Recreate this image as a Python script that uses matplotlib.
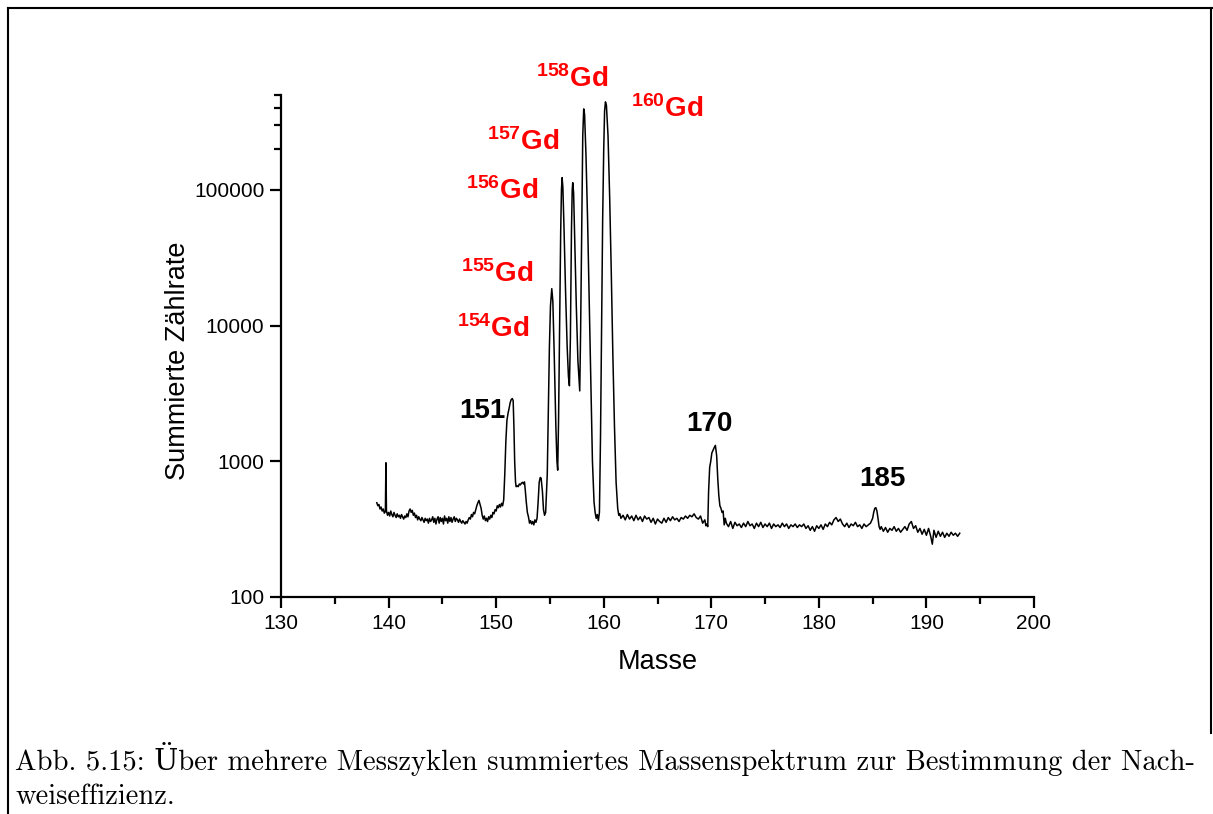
import numpy as np
import matplotlib
matplotlib.use("Agg")
import matplotlib.pyplot as plt
from matplotlib.ticker import FixedLocator, MultipleLocator, NullFormatter
from matplotlib.lines import Line2D

# summed mass spectrum (mass, counts)
m_low = [138.9, 139.0, 139.1, 139.2, 139.3, 139.4, 139.5, 139.6, 139.7, 139.75, 139.8, 139.9,
         140.0, 140.1, 140.2, 140.3, 140.4, 140.5, 140.6, 140.7, 140.8, 140.9,
         141.0, 141.1, 141.2, 141.3, 141.4, 141.5, 141.6, 141.7, 141.8, 141.9,
         142.0, 142.1, 142.2, 142.3, 142.4, 142.5, 142.6, 142.7, 142.8, 142.9,
         143.0, 143.1, 143.2, 143.3, 143.4, 143.5, 143.6, 143.7, 143.8, 143.9,
         144.0, 144.1, 144.2, 144.3, 144.4, 144.5, 144.6, 144.7, 144.8, 144.9,
         145.0, 145.1, 145.2, 145.3, 145.4, 145.5, 145.6, 145.7, 145.8, 145.9,
         146.0, 146.1, 146.2, 146.3, 146.4, 146.5, 146.6, 146.7, 146.8, 146.9,
         147.0, 147.1, 147.2, 147.3, 147.4, 147.5, 147.6, 147.7, 147.8, 147.9,
         148.0, 148.1, 148.2, 148.3, 148.4, 148.5, 148.6, 148.7, 148.8, 148.9,
         149.0, 149.1, 149.2, 149.3, 149.4, 149.5, 149.6, 149.7, 149.8, 149.9,
         150.0, 150.1, 150.2, 150.3, 150.4, 150.5]
c_low = [495, 470, 480, 445, 460, 430, 445, 415, 425, 975, 430, 400,
         420, 395, 430, 405, 390, 420, 400, 385, 410, 390,
         400, 380, 405, 390, 375, 395, 385, 410, 390, 430,
         445, 420, 435, 400, 415, 385, 400, 370, 390, 375,
         365, 385, 370, 355, 380, 365, 375, 350, 380, 360,
         370, 390, 355, 380, 345, 375, 390, 350, 385, 360,
         380, 345, 395, 365, 380, 350, 390, 360, 385, 355,
         375, 390, 360, 380, 370, 355, 375, 360, 350, 365,
         355, 345, 360, 350, 370, 385, 375, 405, 390, 420,
         410, 440, 470, 495, 515, 480, 450, 400, 375, 395,
         365, 380, 360, 390, 375, 400, 385, 420, 410, 440,
         430, 470, 455, 480, 460, 490]

m_gd = [150.6, 150.7, 150.8, 150.9, 151.0, 151.1, 151.2, 151.3, 151.4, 151.5, 151.58,
        151.65, 151.72, 151.8, 151.86, 151.95, 152.05, 152.15, 152.25, 152.35, 152.45,
        152.55, 152.63, 152.7, 152.8, 152.9, 153.0, 153.1, 153.2, 153.3, 153.4, 153.5,
        153.6, 153.7, 153.8, 153.9, 154.0, 154.1, 154.18, 154.3, 154.4, 154.5, 154.6,
        154.75, 154.85, 154.95, 155.05, 155.17, 155.27, 155.4, 155.55, 155.65, 155.72,
        155.8, 155.9, 156.0, 156.07, 156.13, 156.2, 156.3, 156.45, 156.6, 156.72, 156.81,
        156.9, 157.0, 157.07, 157.12, 157.2, 157.3, 157.45, 157.6, 157.77,
        157.85, 157.95, 158.05, 158.14, 158.22, 158.35, 158.5, 158.65, 158.8, 158.95,
        159.1, 159.2, 159.3, 159.4, 159.5, 159.6, 159.7, 159.8, 159.9, 160.0, 160.08,
        160.16, 160.25, 160.4, 160.55, 160.7, 160.85, 161.0, 161.15, 161.3, 161.4]
c_gd = [470, 520, 800, 1400, 2000, 2250, 2450, 2700, 2850, 2900, 2800,
        1800, 1000, 700, 650, 660, 650, 680, 670, 690, 700,
        680, 705, 620, 500, 420, 390, 350, 365, 345, 360, 340,
        370, 355, 380, 500, 700, 760, 750, 600, 440, 400, 420,
        800, 2500, 7000, 14000, 18700, 15000, 6000, 1800, 1000, 860,
        2000, 10000, 50000, 100000, 123000, 105000, 55000, 18000, 7000, 4200, 3600,
        8000, 50000, 100000, 113000, 95000, 45000, 14000, 5500, 3300,
        9000, 50000, 250000, 395000, 360000, 180000, 60000, 15000, 3500, 1000,
        500, 420, 380, 405, 365, 420, 1500, 10000, 60000, 200000, 380000,
        445000, 420000, 250000, 90000, 25000, 6000, 1800, 700, 450, 400]

m_mid = [161.5, 161.6, 161.8, 162.0, 162.2, 162.4, 162.6, 162.8, 163.0, 163.2, 163.4,
         163.6, 163.8, 164.0, 164.2, 164.4, 164.6, 164.8, 165.0, 165.2, 165.4, 165.6,
         165.8, 166.0, 166.2, 166.4, 166.6, 166.8, 167.0, 167.2, 167.4, 167.6, 167.8,
         168.0, 168.2, 168.4, 168.6, 168.8, 169.0, 169.2, 169.4, 169.5, 169.6]
c_mid = [410, 380, 400, 370, 405, 375, 395, 365, 400, 370, 390,
         360, 395, 375, 385, 355, 380, 345, 375, 360, 350, 380,
         355, 385, 365, 390, 370, 380, 360, 385, 375, 395, 380,
         400, 390, 410, 385, 375, 395, 350, 370, 335, 345]

m_170 = [169.67, 169.75, 169.85, 169.95, 170.05, 170.15, 170.25, 170.38, 170.5, 170.6,
         170.7, 170.8, 170.9, 171.0, 171.1, 171.2, 171.3]
c_170 = [330, 600, 900, 1000, 1150, 1200, 1250, 1310, 1100, 750,
         560, 470, 450, 420, 430, 340, 380]

m_high = [171.4, 171.6, 171.8, 172.0, 172.2, 172.4, 172.6, 172.8, 173.0, 173.2, 173.4,
          173.6, 173.8, 174.0, 174.2, 174.4, 174.6, 174.8, 175.0, 175.2, 175.4, 175.6,
          175.8, 176.0, 176.2, 176.4, 176.6, 176.8, 177.0, 177.2, 177.4, 177.6, 177.8,
          178.0, 178.2, 178.4, 178.6, 178.8, 179.0, 179.2, 179.4, 179.6, 179.8, 180.0,
          180.2, 180.4, 180.6, 180.8, 181.0, 181.2, 181.4, 181.6, 181.8, 182.0, 182.2,
          182.4, 182.6, 182.8, 183.0, 183.2, 183.4, 183.6, 183.8, 184.0, 184.2, 184.4,
          184.6, 184.8, 185.0, 185.1, 185.2, 185.3, 185.4, 185.5, 185.6, 185.7,
          185.8, 186.0, 186.2, 186.4, 186.6, 186.8, 187.0, 187.2, 187.4, 187.6, 187.8,
          188.0, 188.2, 188.4, 188.6, 188.8, 189.0, 189.2, 189.4, 189.6, 189.8, 190.0,
          190.2, 190.4, 190.55, 190.7, 190.9, 191.1, 191.3, 191.5, 191.7, 191.9, 192.1,
          192.3, 192.5, 192.7, 192.9, 193.1]
c_high = [350, 330, 360, 320, 355, 335, 345, 325, 350, 330, 360,
          335, 345, 320, 350, 330, 355, 325, 345, 330, 350, 320,
          345, 330, 340, 325, 350, 330, 345, 320, 340, 330, 345,
          325, 340, 330, 345, 320, 335, 310, 330, 305, 335, 320,
          340, 315, 345, 330, 355, 340, 370, 385, 360, 375, 345,
          330, 350, 325, 345, 335, 355, 330, 340, 320, 345, 330,
          340, 350, 380, 420, 450, 455, 430, 380, 330, 315,
          330, 305, 325, 300, 320, 310, 330, 305, 320, 300, 315,
          330, 310, 345, 360, 320, 335, 300, 320, 290, 315, 285,
          320, 280, 245, 310, 275, 305, 280, 300, 275, 295, 280,
          300, 285, 295, 280, 295]

masses = np.array(m_low + m_gd + m_mid + m_170 + m_high)
counts = np.array(c_low + c_gd + c_mid + c_170 + c_high)

# labels: text, mass, counts (baseline position)
iso_labels = ["154", "155", "156", "157", "158", "160"]
iso_x = [146.34, 146.75, 147.15, 149.19, 153.72, 162.57]
iso_y = [8200, 20800, 86300, 197000, 571000, 346000]
peak_labels = ["151", "170", "185"]
peak_x = [146.59, 167.69, 183.76]
peak_y = [2090, 1670, 655]

caption1 = "Abb. 5.15: Über mehrere Messzyklen summiertes Massenspektrum zur Bestimmung der Nach-"
caption2 = "weiseffizienz."

plt.rcParams['font.family'] = ['Liberation Sans', 'DejaVu Sans']

fig = plt.figure(figsize=(12.13, 8.14), dpi=100)
ax = fig.add_axes([0.2317, 0.2666, 0.6207, 0.6167])

ax.plot(masses, counts, color='black', lw=1.1)

ax.set_yscale('log')
ax.set_xlim(130, 200)
ax.set_ylim(100, 500000)

ax.set_yticks([100, 1000, 10000, 100000])
ax.set_yticklabels(["100", "1000", "10000", "100000"])
ax.yaxis.set_minor_locator(FixedLocator([200000, 300000, 400000, 500000]))
ax.yaxis.set_minor_formatter(NullFormatter())
ax.xaxis.set_major_locator(MultipleLocator(10))
ax.xaxis.set_minor_locator(MultipleLocator(5))

for s in ['top', 'right']:
    ax.spines[s].set_visible(False)
for s in ['left', 'bottom']:
    ax.spines[s].set_linewidth(1.6)

ax.tick_params(which='major', direction='out', length=8, width=1.6, labelsize=15, pad=4)
ax.tick_params(which='minor', direction='out', length=5, width=1.6)

ax.set_xlabel("Masse", fontsize=19.5, labelpad=12)
ax.set_ylabel("Summierte Zählrate", fontsize=19.5)
ax.yaxis.set_label_coords(-0.12, 0.47)

for lab, x, y in zip(iso_labels, iso_x, iso_y):
    ax.text(x, y, r'$\mathregular{^{%s}}$Gd' % lab, color='red', fontsize=20,
            fontweight='bold', ha='left', va='baseline', clip_on=False)
for lab, x, y in zip(peak_labels, peak_x, peak_y):
    ax.text(x, y, lab, color='black', fontsize=20, fontweight='bold',
            ha='left', va='baseline')

# frame around the figure
W, H = 1213, 814
fig.add_artist(Line2D([8 / W, 8 / W], [0, 1 - 8 / H], transform=fig.transFigure, color='black', lw=1.5))
fig.add_artist(Line2D([8 / W, 1], [1 - 8 / H, 1 - 8 / H], transform=fig.transFigure, color='black', lw=1.5))
fig.add_artist(Line2D([1 - 2 / W, 1 - 2 / W], [1 - 8 / H, 0.1], transform=fig.transFigure, color='black', lw=1.5))

fig.text(15 / W, 1 - 770 / H, caption1, family=['cmr10', 'DejaVu Serif'], fontsize=20.6,
         ha='left', va='baseline')
fig.text(15 / W, 1 - 804 / H, caption2, family=['cmr10', 'DejaVu Serif'], fontsize=20.6,
         ha='left', va='baseline')

fig.savefig("out.png", dpi=100)
